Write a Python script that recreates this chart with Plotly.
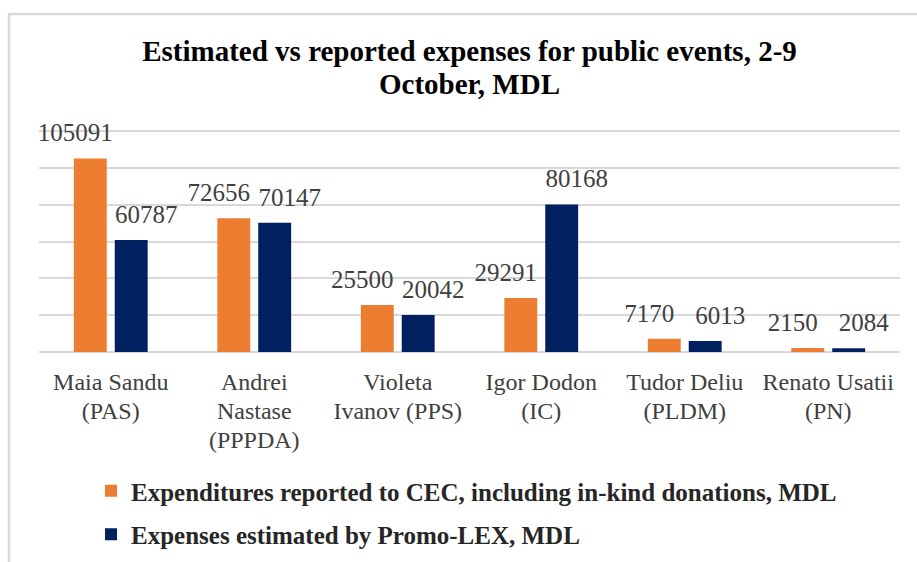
import plotly.graph_objects as go

categories = ["Maia Sandu<br>(PAS)", "Andrei<br>Nastase<br>(PPPDA)", "Violeta<br>Ivanov (PPS)",
              "Igor Dodon<br>(IC)", "Tudor Deliu<br>(PLDM)", "Renato Usatii<br>(PN)"]
reported_cec = [105091, 72656, 25500, 29291, 7170, 2150]
estimated_promolex = [60787, 70147, 20042, 80168, 6013, 2084]
series_names = ["Expenditures reported to CEC, including in-kind donations, MDL",
                "Expenses estimated by Promo-LEX, MDL"]
title_lines = ["Estimated vs reported expenses for public events, 2-9", "October, MDL"]
y_max = 120000
y_step = 20000

ORANGE = "#ED7D31"
NAVY = "#002060"
GRID = "#d9d9d9"
FONT = "Liberation Serif"
BARGAP = 0.43

W, H = 917, 562
ML, MR, MT, MB = 39, 17, 130, 210
pw, ph = W - ML - MR, H - MT - MB

fig = go.Figure()
for i, (vals, col) in enumerate([(reported_cec, ORANGE), (estimated_promolex, NAVY)]):
    fig.add_trace(go.Bar(x=categories, y=vals, name=series_names[i], marker_color=col,
                         marker_line_width=0, offsetgroup=str(i), legendgroup=str(i),
                         hoverinfo="skip"))
for i, vals in enumerate([reported_cec, estimated_promolex]):
    fig.add_trace(go.Scatter(x=categories, y=vals, mode="markers+text", text=[str(v) for v in vals],
                             textposition="top center", offsetgroup=str(i),
                             marker=dict(size=16, opacity=0), showlegend=False, cliponaxis=False,
                             textfont=dict(family=FONT, size=25, color="#404040"),
                             hoverinfo="skip"))

tspan = "<span style='font-size:29px'>{}</span>"
cat_span = "<span style='font-size:24px'>{}</span>"
fig.update_layout(
    width=W, height=H,
    margin=dict(l=ML, r=MR, t=MT, b=MB, autoexpand=False),
    paper_bgcolor="white", plot_bgcolor="white",
    barmode="group", bargap=BARGAP, bargroupgap=0.195,
    scattermode="group", scattergap=0.01,
    title=dict(text="<br>".join(tspan.format(t) for t in title_lines),
               font=dict(family=FONT, size=25.4, color="#000000", weight="bold"),
               x=0.5, xref="paper", xanchor="center", y=1 - 61 / H, yanchor="top"),
    xaxis=dict(showgrid=False, showline=False, ticks="", zeroline=False,
               tickmode="array", tickvals=categories,
               ticktext=["<br>".join(cat_span.format(p) for p in c.split("<br>")) for c in categories],
               ticklabelstandoff=15,
               tickfont=dict(family=FONT, size=22.3, color="#404040")),
    yaxis=dict(range=[0, y_max * 1.005], dtick=y_step, showgrid=True, gridcolor=GRID, gridwidth=2,
               zeroline=True, zerolinecolor=GRID, zerolinewidth=2,
               showticklabels=False, ticks="", showline=False),
    legend=dict(orientation="v", x=(91 - ML) / pw, xanchor="left", y=(MT + ph - 468) / ph,
                yanchor="top", traceorder="grouped", tracegroupgap=8,
                font=dict(family=FONT, size=25, color="#262626", weight="bold"),
                bgcolor="rgba(0,0,0,0)"),
    shapes=[dict(type="rect", xref="paper", yref="paper",
                 x0=(9 - ML) / pw, x1=(W + 20 - ML) / pw,
                 y0=(MT + ph - (H + 20)) / ph, y1=(MT + ph - 14) / ph,
                 line=dict(color=GRID, width=2.5), fillcolor="rgba(0,0,0,0)", layer="below")],
    showlegend=True,
)

fig.write_html("out.html", config={"displayModeBar": False},
               post_script="document.body.style.margin='0';document.body.style.overflow='hidden';")
